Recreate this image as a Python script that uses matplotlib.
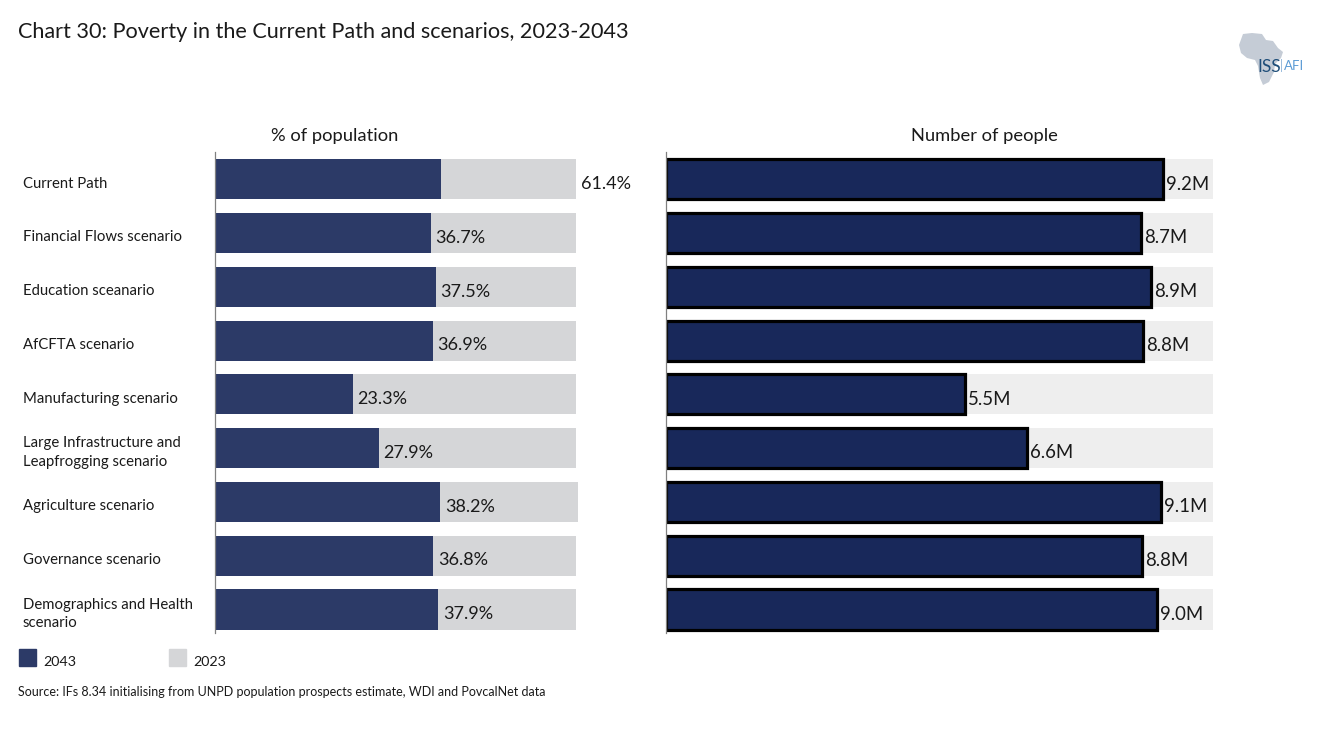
import matplotlib
matplotlib.use("Agg")
import matplotlib.pyplot as plt
from matplotlib.patches import Polygon, Rectangle

plt.rcParams["font.family"] = ["Lato", "DejaVu Sans"]

W, H = 1318, 729

# scenario names, top to bottom
scenarios = [
    "Current Path",
    "Financial Flows scenario",
    "Education sceanario",
    "AfCFTA scenario",
    "Manufacturing scenario",
    "Large Infrastructure and\nLeapfrogging scenario",
    "Agriculture scenario",
    "Governance scenario",
    "Demographics and Health\nscenario",
]

# % of population
pct_2043 = [38.4, 36.7, 37.5, 37.0, 23.4, 27.9, 38.3, 37.1, 38.0]
pct_2023 = [61.4, 61.4, 61.4, 61.4, 61.4, 61.4, 61.7, 61.4, 61.4]
pct_labels = ["61.4%", "36.7%", "37.5%", "36.9%", "23.3%", "27.9%", "38.2%", "36.8%", "37.9%"]

# number of people, millions
people_2043 = [9.19, 8.78, 8.96, 8.82, 5.52, 6.67, 9.15, 8.80, 9.08]
people_2023 = [10.12] * 9
people_labels = ["9.2M", "8.7M", "8.9M", "8.8M", "5.5M", "6.6M", "9.1M", "8.8M", "9.0M"]

NAVY = "#2c3a67"
NAVY_DARK = "#18285a"
GREY = "#d5d6d8"
LIGHT = "#eeeeee"
TEXT = "#1a1a1a"


def box(x0, y0, x1, y1):
    # pixel box (y from top) to figure fractions
    return [x0 / W, 1 - y1 / H, (x1 - x0) / W, (y1 - y0) / H]


def ftext(x, y, s, **kw):
    kw.setdefault("color", TEXT)
    kw.setdefault("va", "center")
    fig.text(x / W, 1 - y / H, s, **kw)


fig = plt.figure(figsize=(W / 100, H / 100), dpi=100)

ax1 = fig.add_axes(box(215, 152.4, 640, 636.4))
ax2 = fig.add_axes(box(666, 152.4, 1240, 636.4))
rows = list(range(len(scenarios)))

ax1.barh(rows, pct_2023, height=0.745, color=GREY, zorder=1)
ax1.barh(rows, pct_2043, height=0.745, color=NAVY, zorder=2)
ax1.set_xlim(0, 425 / 5.88)

ax2.barh(rows, people_2023, height=0.745, color=LIGHT, zorder=1)
ax2.barh(rows, people_2043, height=0.745, color=NAVY_DARK, edgecolor="black", linewidth=2.3, zorder=2)
ax2.set_xlim(0, 574 / 54.1)

for ax in (ax1, ax2):
    ax.set_ylim(8.5, -0.5)
    ax.set_xticks([])
    ax.set_yticks([])
    ax.patch.set_visible(False)
    for side in ("top", "right", "bottom"):
        ax.spines[side].set_visible(False)
    ax.spines["left"].set_color("#808080")
    ax.spines["left"].set_linewidth(0.9)
    ax.spines["left"].set_zorder(3)
    ax.spines["left"].set_bounds(8.43, -0.5)

# first label sits past the grey bar, the others follow the navy bar
for i, s in enumerate(pct_labels):
    x = pct_2023[i] if i == 0 else pct_2043[i]
    ax1.annotate(s, (x, i), xytext=(3.3, -3.4), textcoords="offset points", va="center",
                 fontsize=13, color=TEXT, zorder=4)
for i, s in enumerate(people_labels):
    ax2.annotate(s, (people_2043[i], i), xytext=(2.2, -3.4), textcoords="offset points", va="center",
                 fontsize=13.4, color=TEXT, zorder=4)

for i, s in enumerate(scenarios):
    y = 183.6 + i * 53.78
    ftext(23, y, s, fontsize=10.7, linespacing=1.4)

ftext(18, 32, "Chart 30: Poverty in the Current Path and scenarios, 2023-2043", fontsize=15.6)
ftext(335, 135.5, "% of population", fontsize=13.2, ha="center")
ftext(984, 135.5, "Number of people", fontsize=13.2, ha="center")

# legend
fig.add_artist(Rectangle((19 / W, 1 - 666 / H), 17 / W, 17 / H, transform=fig.transFigure, color=NAVY))
fig.add_artist(Rectangle((169 / W, 1 - 666 / H), 17 / W, 17 / H, transform=fig.transFigure, color=GREY))
ftext(43, 661.5, "2043", fontsize=10.3)
ftext(193, 661.5, "2023", fontsize=10.3)

ftext(18, 692, "Source: IFs 8.34 initialising from UNPD population prospects estimate, WDI and PovcalNet data", fontsize=9)

# logo: Africa outline and wordmark
africa = [(1243, 34), (1252, 33), (1262, 34), (1266, 40), (1273, 41), (1278, 48), (1283, 52),
          (1281, 58), (1275, 64), (1274, 72), (1269, 82), (1263, 85), (1260, 78), (1258, 66),
          (1255, 60), (1247, 58), (1241, 53), (1239, 45)]
fig.add_artist(Polygon([(x / W, 1 - y / H) for x, y in africa], transform=fig.transFigure,
                       color="#c5ccd6", lw=0))
ftext(1257, 66.5, "ISS", fontsize=12.5, color="#1f4e79")
ftext(1280, 66, "|", fontsize=9, color="#8fb4d9")
ftext(1284, 66, "AFI", fontsize=9.5, color="#5b9bd5")

fig.savefig("out.png", dpi=100)
